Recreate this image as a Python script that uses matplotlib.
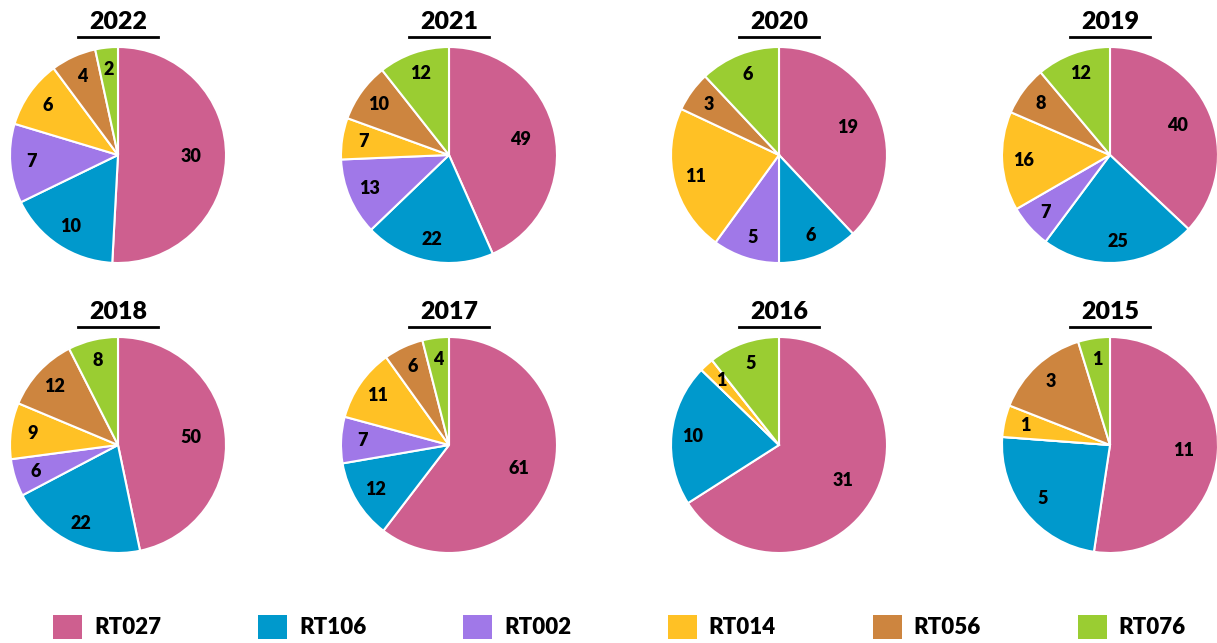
import numpy as np
import matplotlib.pyplot as plt
from matplotlib.patches import Patch

plt.rcParams['font.family'] = ['Lato', 'DejaVu Sans']

ribotypes = ["RT027", "RT106", "RT002", "RT014", "RT056", "RT076"]
colors = ["#CE5F8F", "#0099CC", "#A078E8", "#FFC125", "#CD853F", "#9ACD32"]

years = ["2022", "2021", "2020", "2019", "2018", "2017", "2016", "2015"]
counts_2022 = [30, 10, 7, 6, 4, 2]
counts_2021 = [49, 22, 13, 7, 10, 12]
counts_2020 = [19, 6, 5, 11, 3, 6]
counts_2019 = [40, 25, 7, 16, 8, 12]
counts_2018 = [50, 22, 6, 9, 12, 8]
counts_2017 = [61, 12, 7, 11, 6, 4]
counts_2016 = [31, 10, 0, 1, 0, 5]
counts_2015 = [11, 5, 0, 1, 3, 1]
all_counts = [counts_2022, counts_2021, counts_2020, counts_2019,
              counts_2018, counts_2017, counts_2016, counts_2015]

W, H = 1217, 643
fig = plt.figure(figsize=(W / 100, H / 100), dpi=100)

col_x = [118, 449, 779, 1110]
row_y = [155, 445]
r = 108
weight = "heavy"

for i, (year, counts) in enumerate(zip(years, all_counts)):
    cx = col_x[i % 4]
    cy = row_y[i // 4]
    ax = fig.add_axes([(cx - r) / W, 1 - (cy + r) / H, 2 * r / W, 2 * r / H])
    wedges, _ = ax.pie(counts, colors=colors, startangle=90, counterclock=False,
                       radius=1, wedgeprops=dict(edgecolor="white", linewidth=1.5))
    total = sum(counts)
    # labels: small slices near the rim, big ones further in
    for w, v in zip(wedges, counts):
        if v == 0:
            continue
        ang = np.deg2rad((w.theta1 + w.theta2) / 2)
        d = 0.8 if v / total < 0.3 else 0.68
        ax.text(d * np.cos(ang), d * np.sin(ang), str(v), ha="center", va="center",
                fontsize=13, fontweight=weight, color="black")
    ax.set_xlim(-1, 1)
    ax.set_ylim(-1, 1)
    ax.set_aspect("equal")
    ax.axis("off")
    ax.text(0, 1.235, year, ha="center", va="center", fontsize=18,
            fontweight=weight, clip_on=False)
    ax.plot([-0.37, 0.37], [1.09, 1.09], color="black", lw=2, clip_on=False)

handles = [Patch(facecolor=c, edgecolor="none") for c in colors]
fig.legend(handles, ribotypes, loc="center", bbox_to_anchor=(0.509, 16 / H), ncol=6,
           frameon=False, handlelength=1.3, handleheight=1.3,
           handletextpad=0.55, columnspacing=4.35, prop=dict(weight=weight, size=16))

fig.savefig("out.png", dpi=100)
